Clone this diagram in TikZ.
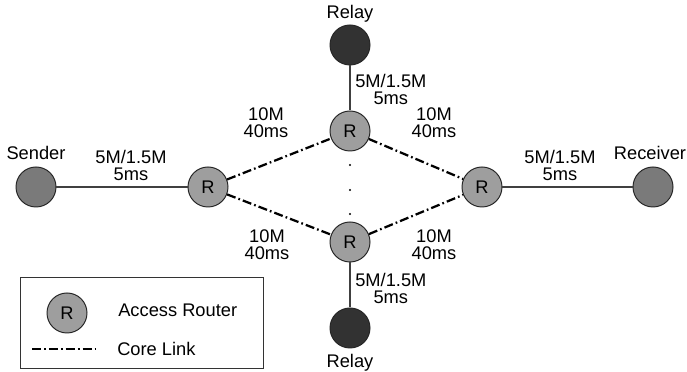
\documentclass[tikz,border=0pt]{standalone}
\usepackage{fontspec}
\setmainfont{Liberation Sans}
\usepackage{tikz}
\definecolor{routergray}{RGB}{158,158,158}
\definecolor{hostgray}{RGB}{122,122,122}
\definecolor{relaygray}{RGB}{50,50,50}

\begin{document}
\begin{tikzpicture}[x=0.025cm, y=-0.025cm, font=\fontsize{13}{12.1}\selectfont,
  router/.style={draw=black!85, circle, fill=routergray, minimum size=1cm, inner sep=0pt, line width=0.7pt},
  host/.style={router, fill=hostgray},
  relay/.style={router, fill=relaygray},
  access/.style={line width=0.9pt, black!75},
  core/.style={line width=1.6pt, dash pattern=on 6.4pt off 2.2pt on 1.2pt off 2.2pt},
  txt/.style={inner sep=0pt, align=center}]
\useasboundingbox (0,0) rectangle (687,372);
\node[host] (sender) at (36,187) {};
\node[router] (rleft) at (208,187) {R};
\node[router] (rtop) at (350,131) {R};
\node[router] (rbot) at (350,242) {R};
\node[router] (rright) at (482,187) {R};
\node[host] (receiver) at (653,187) {};
\node[relay] (relaytop) at (350,45) {};
\node[relay] (relaybot) at (350,328) {};
\node[txt, anchor=base] (sendertext) at (36,160) {Sender};
\node[txt, anchor=base] (receivertext) at (650,160) {Receiver};
\node[txt, anchor=base] (relaytoptext) at (350,19) {Relay};
\node[txt, anchor=base] (relaybottext) at (350,368) {Relay};
\draw[access] (sender) -- (rleft);
\draw[access] (rright) -- (receiver);
\draw[access] (relaytop) -- (rtop);
\draw[access] (rbot) -- (relaybot);
\draw[core] (rleft) -- (rtop);
\draw[core] (rleft) -- (rbot);
\draw[core] (rtop) -- (rright);
\draw[core] (rbot) -- (rright);
\foreach \y in {165,190,214}
  \fill (350,\y) circle (0.8pt);
\node[txt] (linksl) at (131,165) {5M/1.5M\\5ms};
\node[txt] (linksr) at (560,165) {5M/1.5M\\5ms};
\node[txt, anchor=west] (linkvt) at (355,89) {5M/1.5M\\5ms};
\node[txt, anchor=west] (linkvb) at (355,288) {5M/1.5M\\5ms};
\node[txt] (coreul) at (266,123) {10M\\40ms};
\node[txt] (coreur) at (434,123) {10M\\40ms};
\node[txt] (corell) at (267,245) {10M\\40ms};
\node[txt] (corelr) at (434,245) {10M\\40ms};
\node[draw=black!80, line width=0.7pt, minimum width=6.05cm, minimum height=2.25cm, inner sep=0pt] (legend) at (142,323) {};
\node[router] (legendr) at (67,313) {R};
\node[txt, anchor=base west] (legendrtext) at (118,317) {Access Router};
\coordinate (corea) at (32,349);
\coordinate (coreb) at (97,349);
\draw[core] (corea) -- (coreb);
\node[txt, anchor=base west] (legendcoretext) at (117,356) {Core Link};
\end{tikzpicture}
\end{document}
